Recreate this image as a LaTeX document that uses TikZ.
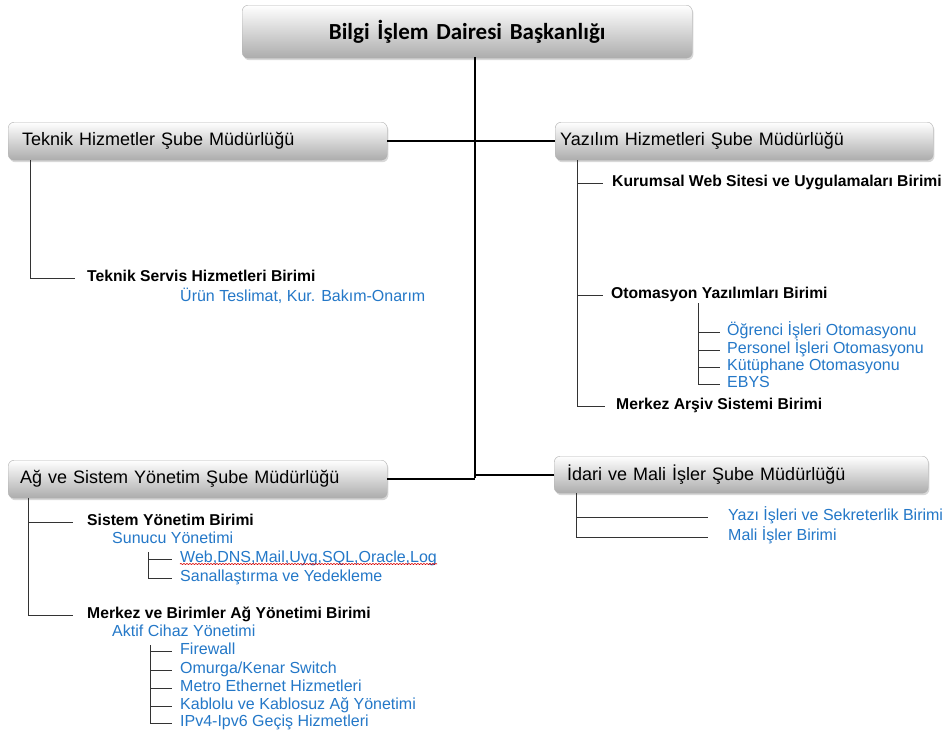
\documentclass[tikz,border=0pt]{standalone}
\usepackage{fontspec}
\setmainfont{Liberation Sans}
\newfontfamily\titlefont{Carlito}
\usetikzlibrary{shadows,decorations.pathmorphing}
\definecolor{blu}{RGB}{36,120,200}
\begin{document}
\begin{tikzpicture}[x=1pt,y=-1pt,
  box/.style={rounded corners=6pt, draw=gray!60, top color=white, bottom color=gray!65,
    drop shadow={opacity=0.3,shadow xshift=1.2pt,shadow yshift=-2pt},
    anchor=north west, align=left, font=\fontsize{18}{20}\selectfont},
  unit/.style={anchor=west, inner sep=0pt, text height=0.72em, text depth=0pt, font=\fontsize{15.7}{18}\selectfont\bfseries},
  sub/.style={anchor=west, inner sep=0pt, text height=0.72em, text depth=0pt, text=blu, font=\fontsize{16}{18}\selectfont},
  trunk/.style={line width=2pt, black},
  br/.style={line width=0.9pt, black!80}]
\useasboundingbox (0,0) rectangle (949,737);
\fill[white] (0,0) rectangle (949,737);

% boxes
\node[box, minimum width=450pt, minimum height=53pt, align=center, text width=420pt,
  font=\titlefont\fontsize{23}{26}\selectfont\bfseries] (top) at (242,5) {Bilgi İşlem Dairesi Başkanlığı};
\node[box, minimum height=38pt, inner xsep=14pt, text width=351pt] (tek) at (8,122) {Teknik Hizmetler Şube Müdürlüğü};
\node[box, minimum height=38pt, inner xsep=5pt, text width=368pt] (yaz) at (555,122) {Yazılım Hizmetleri Şube Müdürlüğü};
\node[box, minimum height=38pt, inner xsep=12pt, text width=355pt] (ag) at (8,460) {Ağ ve Sistem Yönetim Şube Müdürlüğü};
\node[box, minimum height=37pt, inner xsep=13pt, text width=348pt] (ida) at (554,456) {İdari ve Mali İşler Şube Müdürlüğü};

% trunk
\coordinate (t0) at (475,57);
\coordinate (t1) at (475,478);
\draw[trunk] (t0) -- (t1);
\draw[trunk] (tek.east) -- (yaz.west);
\draw[trunk] (ag.east) -- (ag.east -| t1);
\draw[trunk] (ida.west) -- (ida.west -| t1);

% Teknik subtree
\node[unit] (tsh) at (87,278) {Teknik Servis Hizmetleri Birimi};
\node[sub] (urun) at (180,298) {Ürün Teslimat, Kur. Bakım-Onarım};
\coordinate (tv) at (30,160);
\draw[br] (tv) |- ([xshift=-12pt]tsh.west);

% Yazilim subtree
\node[unit] (kur) at (612,183) {Kurumsal Web Sitesi ve Uygulamaları Birimi};
\node[unit] (oto) at (611,295) {Otomasyon Yazılımları Birimi};
\node[unit] (ars) at (616,406) {Merkez Arşiv Sistemi Birimi};
\coordinate (yv) at (577,160);
\draw[br] (yv) |- ([xshift=-11pt]ars.west);
\draw[br] (kur.west -| yv) -- ([xshift=-9pt]kur.west);
\draw[br] (oto.west -| yv) -- ([xshift=-8pt]oto.west);
\node[sub] (ogr) at (727,332) {Öğrenci İşleri Otomasyonu};
\node[sub] (per) at (727,350) {Personel İşleri Otomasyonu};
\node[sub] (kut) at (727,367) {Kütüphane Otomasyonu};
\node[sub] (ebys) at (727,384) {EBYS};
\coordinate (ov) at (698,303);
\draw[br] (ov) |- ([xshift=-7pt]ebys.west);
\foreach \n in {ogr,per,kut}{\draw[br] (\n.west -| ov) -- ([xshift=-7pt]\n.west);}

% Idari subtree
\node[sub] (yazi) at (728,517) {Yazı İşleri ve Sekreterlik Birimi};
\node[sub] (mali) at (728,537) {Mali İşler Birimi};
\coordinate (iv) at (576,493);
\draw[br] (iv) |- ([xshift=-20pt]mali.west);
\draw[br] (yazi.west -| iv) -- ([xshift=-20pt]yazi.west);

% Ag subtree
\node[unit] (sis) at (87,522) {Sistem Yönetim Birimi};
\node[sub] (sun) at (112,540) {Sunucu Yönetimi};
\node[sub] (web) at (180,559) {Web,DNS,Mail,Uyg,SQL,Oracle,Log};
\node[sub] (san) at (180,578) {Sanallaştırma ve Yedekleme};
\node[unit] (mer) at (87,615) {Merkez ve Birimler Ağ Yönetimi Birimi};
\node[sub] (akt) at (112,633) {Aktif Cihaz Yönetimi};
\node[sub] (fw) at (180,651) {Firewall};
\node[sub] (omu) at (180,670) {Omurga/Kenar Switch};
\node[sub] (met) at (180,688) {Metro Ethernet Hizmetleri};
\node[sub] (kab) at (180,706) {Kablolu ve Kablosuz Ağ Yönetimi};
\node[sub] (ipv) at (180,723) {IPv4-Ipv6 Geçiş Hizmetleri};
\coordinate (av) at (28,498);
\draw[br] (av) |- ([xshift=-14pt]mer.west);
\draw[br] (sis.west -| av) -- ([xshift=-14pt]sis.west);
\coordinate (sv) at (148,552);
\draw[br] (sv) |- ([xshift=-8pt]san.west);
\draw[br] (web.west -| sv) -- ([xshift=-8pt]web.west);
\coordinate (kv) at (150,645);
\draw[br] (kv) |- ([xshift=-8pt]ipv.west);
\foreach \n in {fw,omu,met,kab}{\draw[br] (\n.west -| kv) -- ([xshift=-8pt]\n.west);}
% red spelling underline
\draw[red!85!black, line width=0.6pt, decorate, decoration={snake, amplitude=0.6pt, segment length=3pt}]
  ([yshift=-5pt]web.west) -- ([yshift=-5pt]web.east);
\end{tikzpicture}
\end{document}
